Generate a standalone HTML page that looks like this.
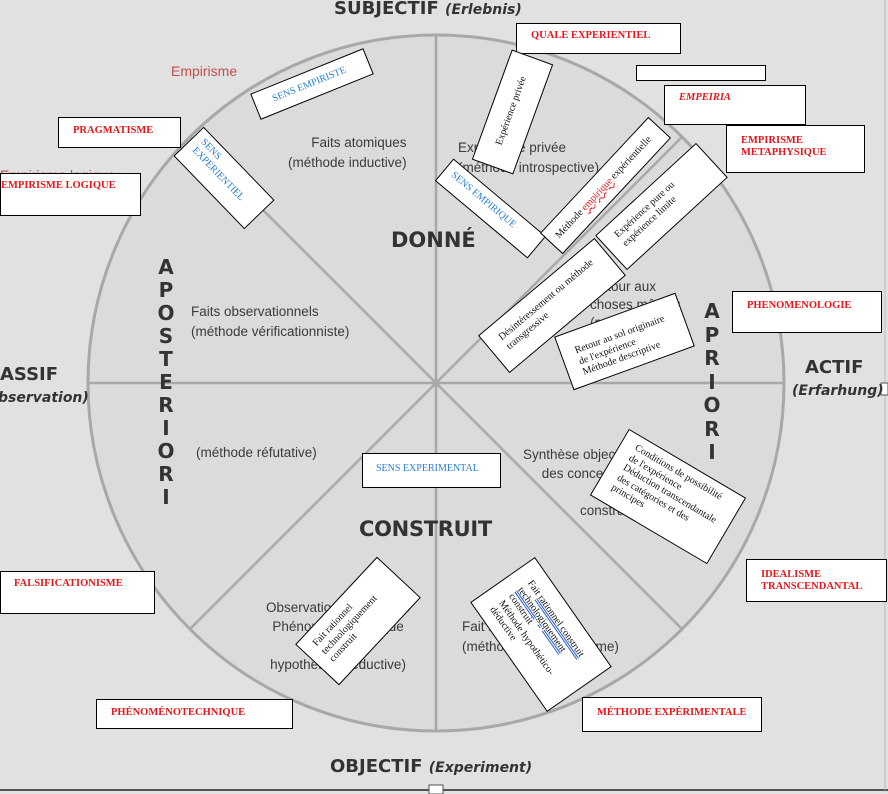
<!DOCTYPE html>
<html><head><meta charset="utf-8"><style>
body{margin:0;width:888px;height:794px;overflow:hidden;background:#e1e1e1;position:relative;font-family:"Liberation Sans",sans-serif}
.t{position:absolute;white-space:nowrap;color:#444}
.b{position:absolute;background:#fff;border:1.5px solid #000;box-sizing:border-box;font-family:"Liberation Serif",serif;font-size:10px;color:#111;overflow:hidden;line-height:1.15}
.r{color:#e8161b;font-weight:bold;font-size:10.5px;padding:6px 0 0 14px}
.bl{color:#2a7fd0}
.rot{padding:4px 8px}
.big{font-family:"DejaVu Sans",sans-serif;font-weight:bold;color:#333}
.gs{font-size:13.5px;color:#3a3a3a}
</style></head><body>
<svg width="888" height="794" style="position:absolute;left:0;top:0">
<circle cx="436" cy="383" r="348" fill="#dbdbdb" stroke="#a8a8a8" stroke-width="3"/>
<g stroke="#a8a8a8" stroke-width="2.5">
<line x1="436" y1="35" x2="436" y2="731"/>
<line x1="88" y1="383" x2="784" y2="383"/>
<line x1="190" y1="137" x2="682" y2="629"/>
<line x1="682" y1="137" x2="190" y2="629"/>
</g>
<line x1="0" y1="790" x2="888" y2="790" stroke="#555" stroke-width="2"/>
<line x1="885" y1="0" x2="885" y2="790" stroke="#bbb" stroke-width="1"/>
<rect x="429" y="785" width="14" height="9" fill="#fff" stroke="#555"/>
<rect x="881" y="383" width="7" height="12" fill="#fff" stroke="#555"/>
</svg>

<div class="t big" style="left:334px;top:-2px;font-size:18px">SUBJECTIF <i style="font-size:14px">(Erlebnis)</i></div>
<div class="t big" style="left:330px;top:756px;font-size:18px">OBJECTIF <i style="font-size:14px">(Experiment)</i></div>
<div class="t big" style="left:805px;top:357px;font-size:18px">ACTIF</div>
<div class="t big" style="left:792px;top:383px;font-size:14px"><i>(Erfarhung)</i></div>
<div class="t big" style="left:0px;top:364px;font-size:18px">ASSIF</div>
<div class="t big" style="left:-2px;top:390px;font-size:14px"><i>bservation)</i></div>
<div class="t big" style="left:391px;top:228px;font-size:21px">DONNÉ</div>
<div class="t big" style="left:359px;top:517px;font-size:21px;letter-spacing:-0.3px">CONSTRUIT</div>
<div class="t big" style="left:155px;top:256px;font-size:20px;line-height:23px;text-align:center;width:22px;white-space:normal">A P O S T E R I O R I</div>
<div class="t big" style="left:701px;top:300px;font-size:20px;line-height:23.5px;text-align:center;width:22px;white-space:normal">A P R I O R I</div>

<div class="t" style="left:171px;top:63px;font-size:14px;color:#c0504d">Empirisme</div>
<div class="t" style="left:0px;top:167px;font-size:14px;color:#c0504d">Empirisme logique</div>
<div class="t gs" style="left:288px;top:133px;text-align:right;line-height:20px">Faits atomiques<br>(méthode inductive)</div>
<div class="t gs" style="left:458px;top:138px;line-height:20px">Expérience privée<br>(méthode introspective)</div>
<div class="t gs" style="left:590px;top:278px;line-height:18px">Retour aux<br>choses mêmes<br>(méthode</div>
<div class="t gs" style="left:191px;top:302px;line-height:20px">Faits observationnels<br>(méthode vérificationniste)</div>
<div class="t gs" style="left:196px;top:445px">(méthode réfutative)</div>
<div class="t gs" style="left:523px;top:445px;line-height:19px">Synthèse objective<br>&nbsp;&nbsp;&nbsp;&nbsp;&nbsp;des concepts</div>
<div class="t gs" style="left:580px;top:503px">construit</div>
<div class="t gs" style="left:266px;top:598px;line-height:19px;text-align:center">Observation scientifique<br>Phénoménotechnique<br>(méthode<br>hypothético-déductive)</div>
<div class="t gs" style="left:462px;top:617px;line-height:20px">Fait rationnel<br>(méthode du rationalisme)</div>

<div class="b r" style="left:516px;top:23px;width:165px;height:31px">QUALE EXPERIENTIEL</div>
<div class="b" style="left:636px;top:65px;width:130px;height:16px"></div>
<div class="b r" style="left:664px;top:85px;width:142px;height:40px;font-style:italic">EMPEIRIA</div>
<div class="b r" style="left:726px;top:125px;width:139px;height:48px;padding-top:9px">EMPIRISME<br>METAPHYSIQUE</div>
<div class="b r" style="left:732px;top:291px;width:150px;height:42px;padding-top:8px">PHENOMENOLOGIE</div>
<div class="b r" style="left:746px;top:559px;width:141px;height:43px;padding-top:9px">IDEALISME<br>TRANSCENDANTAL</div>
<div class="b r" style="left:582px;top:697px;width:180px;height:35px;padding-top:9px">MÉTHODE EXPÉRIMENTALE</div>
<div class="b r" style="left:96px;top:699px;width:197px;height:30px;padding-top:7px">PHÉNOMÉNOTECHNIQUE</div>
<div class="b r" style="left:0px;top:571px;width:155px;height:43px;padding-left:13px">FALSIFICATIONISME</div>
<div class="b r" style="left:58px;top:117px;width:123px;height:31px;padding-top:7px">PRAGMATISME</div>
<div class="b r" style="left:0px;top:173px;width:141px;height:43px;padding-left:0">EMPIRISME LOGIQUE</div>
<div class="b bl" style="left:362px;top:453px;width:139px;height:35px;padding:9px 0 0 13px">SENS EXPERIMENTAL</div>

<div class="b bl rot" style="left:251px;top:70px;width:122px;height:28px;transform:rotate(-22deg);padding-left:18px;padding-top:7px">SENS EMPIRISTE</div>
<div class="b bl rot" style="left:173px;top:157px;width:102px;height:42px;transform:rotate(46deg)">SENS<br>EXPERIENTIEL</div>
<div class="b rot" style="left:454px;top:90px;width:117px;height:44px;transform:rotate(-70deg);padding-top:14px;padding-left:22px">Expérience privée</div>
<div class="b bl rot" style="left:430px;top:194px;width:121px;height:29px;transform:rotate(40deg);padding-top:6px">SENS EMPIRIQUE</div>
<div class="b rot" style="left:526px;top:170px;width:159px;height:31px;transform:rotate(-47deg);padding-top:9px">Méthode <span style="color:#e8161b;text-decoration:underline wavy #e8161b">empirique</span> expérientielle</div>
<div class="b rot" style="left:593px;top:183px;width:137px;height:47px;transform:rotate(-42.6deg);padding-top:8px;padding-left:14px">Expérience pure ou<br>expérience limite</div>
<div class="b rot" style="left:476px;top:281px;width:152px;height:49px;transform:rotate(-40deg);padding-top:10px;padding-left:14px">Désintéressement ou méthode<br>transgressive</div>
<div class="b rot" style="left:560px;top:313px;width:129px;height:57px;transform:rotate(-20deg);padding-top:14px;padding-left:14px">Retour au sol originaire<br>de l'expérience<br>Méthode descriptive</div>
<div class="b rot" style="left:600px;top:458px;width:136px;height:77px;transform:rotate(30.5deg);padding-top:6px;padding-left:14px">Conditions de possibilité<br>de l'expérience<br>Déduction transcendantale<br>des catégories et des<br>principes</div>
<div class="b rot" style="left:474px;top:595px;width:134px;height:79px;transform:rotate(55deg);padding-top:12px;padding-left:16px">Fait <span style="text-decoration:underline double #2a5fd0">rationnel construit</span><br><span style="text-decoration:underline double #2a5fd0">technologiquement</span> construit<br>Méthode hypothético-<br>déductive</div>
<div class="b rot" style="left:298px;top:591px;width:120px;height:60px;transform:rotate(-47deg);padding-top:8px;padding-left:12px">Fait rationnel<br>technologiquement<br>construit</div>
</body></html>
